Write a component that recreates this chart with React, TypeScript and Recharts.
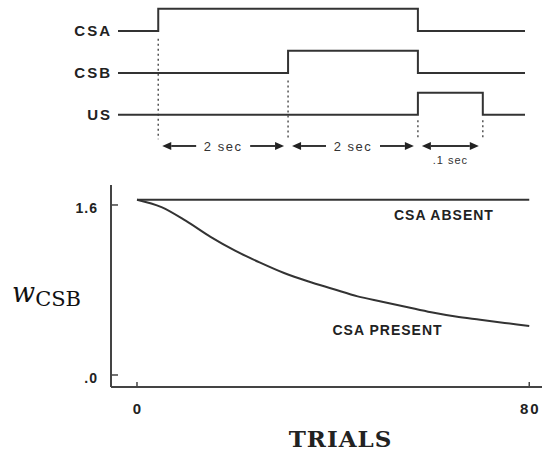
import { LineChart, Line, XAxis, YAxis, ReferenceLine, ReferenceDot } from 'recharts'

// --- timing diagram (top): drawn positions in seconds, step levels per signal
const stepTimes = [-0.62, 0, 2, 4, 5, 5.65]
const csaLevels = [3.8, 4.8, 4.8, 3.8, 3.8, 3.8]
const csbLevels = [1.9, 1.9, 2.9, 1.9, 1.9, 1.9]
const usLevels = [0, 0, 0, 1, 0, 0]
const signalNames = ['CSA', 'CSB', 'US']
const signalBase = [3.8, 1.9, 0]

const markTimes = [0, 2, 4, 5]
const markTops = [3.45, 1.55, -0.25, -0.25]
const markBottom = -1.1

const intervalFrom = [0, 2, 4]
const intervalTo = [2, 4, 5]
const intervalLabels = ['2 sec', '2 sec', '.1 sec']
const arrowLevel = -1.41

// --- learning curves (bottom)
const trials = [0, 5, 10, 15, 20, 25, 30, 35, 40, 45, 50, 55, 60, 65, 70, 75, 80]
const csaAbsent = [1.65, 1.65, 1.65, 1.65, 1.65, 1.65, 1.65, 1.65, 1.65, 1.65, 1.65, 1.65, 1.65, 1.65, 1.65, 1.65, 1.65]
const csaPresent = [1.65, 1.58, 1.45, 1.3, 1.17, 1.06, 0.96, 0.88, 0.81, 0.74, 0.69, 0.64, 0.59, 0.55, 0.52, 0.49, 0.46]
const curveNames = ['CSA ABSENT', 'CSA PRESENT']
const curveNoteAt = [
  { x: 62.6, y: 1.506 },
  { x: 51.1, y: 0.424 },
]
const yTicks = [0, 1.6]
const yTickLabels = ['.0', '1.6']
const xTicks = [0, 80]

const INK = '#333'
const AXIS = '#444'
const SANS = '"Liberation Sans", Arial, sans-serif'
const SERIF = '"DejaVu Serif", serif'

const timingData = stepTimes.map((t, i) => ({
  t,
  csa: csaLevels[i],
  csb: csbLevels[i],
  us: usLevels[i],
}))

const curveData = trials.map((trial, i) => ({
  trial,
  absent: csaAbsent[i],
  present: csaPresent[i],
}))

function arrowShape(label: string, inline: boolean) {
  return (p: any) => {
    const y = p.y1
    const a = Math.min(p.x1, p.x2) + 4
    const b = Math.max(p.x1, p.x2) - 4
    const mid = (a + b) / 2
    const head = 9
    const hh = 4
    const gap = 27
    const lineStyle = { stroke: INK, strokeWidth: 2 }
    return (
      <g>
        {inline ? (
          <>
            <line x1={a + head} y1={y} x2={mid - gap} y2={y} {...lineStyle} />
            <line x1={mid + gap} y1={y} x2={b - head} y2={y} {...lineStyle} />
            <text x={mid} y={y} dy="0.35em" textAnchor="middle" fontFamily={SANS} fontSize={13} letterSpacing={1.5} fill={INK}>
              {label}
            </text>
          </>
        ) : (
          <>
            <line x1={a + head} y1={y} x2={b - head} y2={y} {...lineStyle} />
            <text x={mid} y={y + 14} dy="0.35em" textAnchor="middle" fontFamily={SANS} fontSize={11} letterSpacing={1} fill={INK}>
              {label}
            </text>
          </>
        )}
        <polygon points={`${a},${y} ${a + head},${y - hh} ${a + head},${y + hh}`} fill="#222" />
        <polygon points={`${b},${y} ${b - head},${y - hh} ${b - head},${y + hh}`} fill="#222" />
      </g>
    )
  }
}

function SignalTick(props: any) {
  const { x, y, payload } = props
  const idx = signalBase.indexOf(payload.value)
  return (
    <text x={x - 6} y={y} dy="0.36em" textAnchor="end" fontFamily={SANS} fontSize={15} fontWeight="bold" letterSpacing={2} fill="#222">
      {signalNames[idx]}
    </text>
  )
}

function WeightTick(props: any) {
  const { x, y, payload } = props
  const idx = yTicks.indexOf(payload.value)
  return (
    <g>
      <line x1={x} y1={y} x2={x + 7} y2={y} stroke={AXIS} strokeWidth={1.5} />
      <text x={x - 13} y={y + 8} textAnchor="end" fontFamily={SANS} fontSize={14} fontWeight="bold" letterSpacing={1} fill="#222">
        {yTickLabels[idx]}
      </text>
    </g>
  )
}

function TrialTick(props: any) {
  const { x, y, payload } = props
  return (
    <g>
      <line x1={x} y1={y - 5} x2={x} y2={y} stroke={AXIS} strokeWidth={1.5} />
      <text x={x + 1} y={y + 27} textAnchor="middle" fontFamily={SANS} fontSize={15} fontWeight="bold" letterSpacing={2} fill="#222">
        {payload.value}
      </text>
    </g>
  )
}

function TrialsLabel(props: any) {
  const vb = props.viewBox
  return (
    <text x={vb.x + vb.width / 2 + 14} y={vb.y + 60} textAnchor="middle" fontFamily={SERIF} fontSize={23} fontWeight="bold" letterSpacing={1} fill="#222">
      TRIALS
    </text>
  )
}

function WeightLabel(props: any) {
  const vb = props.viewBox
  return (
    <text x={12} y={vb.y + 117} fontFamily={SERIF} fill="#111">
      <tspan fontStyle="italic" fontSize={27}>w</tspan>
      <tspan fontSize={21} dy={4}>CSB</tspan>
    </text>
  )
}

function noteShape(label: string) {
  return (p: any) => (
    <text x={p.cx} y={p.cy} dy="0.36em" textAnchor="middle" fontFamily={SANS} fontSize={14} fontWeight="bold" letterSpacing={1} fill="#222">
      {label}
    </text>
  )
}

export default function App() {
  return (
    <div style={{ position: 'absolute', left: 0, top: 0, width: 544, height: 454, background: '#fff' }}>
      <div style={{ position: 'absolute', left: 0, top: 0 }}>
        <LineChart width={544} height={180} data={timingData} margin={{ top: 0, right: 19, bottom: 21, left: 0 }}>
          <XAxis type="number" dataKey="t" domain={[-0.62, 5.65]} hide />
          <YAxis
            type="number"
            domain={[-2, 5.2]}
            ticks={signalBase}
            width={118}
            axisLine={false}
            tickLine={false}
            tickSize={0}
            tickMargin={0}
            tick={<SignalTick />}
          />
          {markTimes.map((t, i) => (
            <ReferenceLine
              key={'m' + i}
              segment={[{ x: t, y: markTops[i] }, { x: t, y: markBottom }]}
              stroke="#555"
              strokeWidth={1.5}
              strokeDasharray="2 3"
            />
          ))}
          {intervalFrom.map((from, i) => (
            <ReferenceLine
              key={'a' + i}
              segment={[{ x: from, y: arrowLevel }, { x: intervalTo[i], y: arrowLevel }]}
              shape={arrowShape(intervalLabels[i], i < 2)}
            />
          ))}
          <Line type="stepAfter" dataKey="csa" stroke={INK} strokeWidth={2} dot={false} isAnimationActive={false} />
          <Line type="stepAfter" dataKey="csb" stroke={INK} strokeWidth={2} dot={false} isAnimationActive={false} />
          <Line type="stepAfter" dataKey="us" stroke={INK} strokeWidth={2} dot={false} isAnimationActive={false} />
        </LineChart>
      </div>
      <div style={{ position: 'absolute', left: 0, top: 180 }}>
        <LineChart width={544} height={274} data={curveData} margin={{ top: 5, right: 2, bottom: 0, left: 0 }}>
          <XAxis
            type="number"
            dataKey="trial"
            domain={[-5.3, 82.6]}
            ticks={xTicks}
            height={67}
            axisLine={{ stroke: AXIS, strokeWidth: 2 }}
            tickLine={false}
            tickSize={0}
            tickMargin={0}
            tick={<TrialTick />}
            label={{ content: TrialsLabel }}
          />
          <YAxis
            type="number"
            domain={[-0.113, 1.788]}
            ticks={yTicks}
            width={111}
            axisLine={{ stroke: AXIS, strokeWidth: 2 }}
            tickLine={false}
            tickSize={0}
            tickMargin={0}
            tick={<WeightTick />}
            label={{ content: WeightLabel }}
          />
          <Line type="monotone" dataKey="absent" stroke={INK} strokeWidth={2} dot={false} isAnimationActive={false} />
          <Line type="monotone" dataKey="present" stroke={INK} strokeWidth={2} dot={false} isAnimationActive={false} />
          {curveNames.map((name, i) => (
            <ReferenceDot key={name} x={curveNoteAt[i].x} y={curveNoteAt[i].y} r={0} shape={noteShape(name)} />
          ))}
        </LineChart>
      </div>
    </div>
  )
}
